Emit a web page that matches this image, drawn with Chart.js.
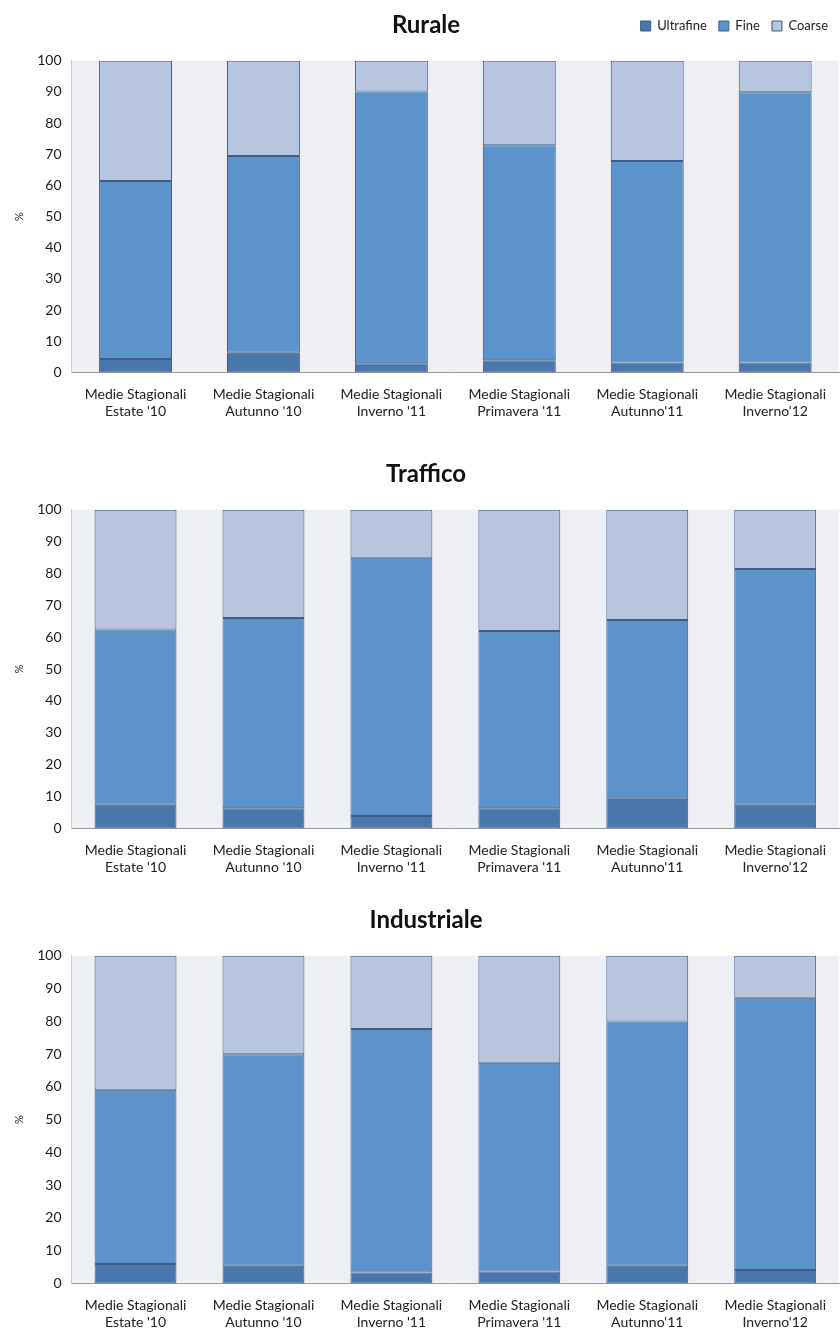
<!DOCTYPE html>
<html>
<head>
<meta charset="utf-8">
<script src="https://cdn.jsdelivr.net/npm/chart.js@4.4.0/dist/chart.umd.min.js"></script>
<style>
  html, body { margin: 0; background: #fff; overflow: hidden; }
  .box { position: absolute; left: 0; width: 840px; }
</style>
</head>
<body>
<div class="box" style="top:0;height:434px"><canvas id="chartRurale"></canvas></div>
<div class="box" style="top:447px;height:443px"><canvas id="chartTraffico"></canvas></div>
<div class="box" style="top:893px;height:452px"><canvas id="chartIndustriale"></canvas></div>
<script>
// categorie (due righe per etichetta)
const categories = [
  ['Medie Stagionali', "Estate '10"],
  ['Medie Stagionali', "Autunno '10"],
  ['Medie Stagionali', "Inverno '11"],
  ['Medie Stagionali', "Primavera '11"],
  ['Medie Stagionali', "Autunno'11"],
  ['Medie Stagionali', "Inverno'12"]
];
const seriesNames = ['Ultrafine', 'Fine', 'Coarse'];
const yTicks = [0, 10, 20, 30, 40, 50, 60, 70, 80, 90, 100];

// Rurale (%)
const ruraleUltrafine = [4.3, 6.3, 2.9, 3.9, 3.2, 3.2];
const ruraleFine      = [57.1, 63.1, 87.2, 69.0, 64.6, 86.7];
const ruraleCoarse    = [38.6, 30.6, 9.9, 27.1, 32.2, 10.1];

// Traffico (%)
const trafficoUltrafine = [7.4, 6.3, 3.9, 6.3, 9.8, 7.4];
const trafficoFine      = [55.0, 59.7, 81.0, 55.6, 55.6, 74.0];
const trafficoCoarse    = [37.6, 34.0, 15.1, 38.1, 34.6, 18.6];

// Industriale (%)
const industrialeUltrafine = [5.9, 5.4, 3.3, 3.6, 5.4, 4.1];
const industrialeFine      = [53.2, 64.5, 74.3, 63.7, 74.5, 83.1];
const industrialeCoarse    = [40.9, 30.1, 22.4, 32.7, 20.1, 12.8];

const colors = ['#4977AC', '#5B93CA', '#B7C5DF'];
const edge = '#3D5D86';

Chart.defaults.font.family = 'Lato, "Open Sans", sans-serif';
Chart.defaults.color = '#1a1a1a';

// sfondo dell'area del grafico
const plotBg = {
  id: 'plotBg',
  beforeDraw(chart) {
    const a = chart.chartArea;
    const c = chart.ctx;
    c.save();
    c.fillStyle = '#EDEFF4';
    c.fillRect(a.left, a.top, a.right - a.left, a.bottom - a.top);
    c.restore();
  }
};

function makeChart(id, title, ultra, fine, coarse, barPct, withLegend) {
  const values = [ultra, fine, coarse];
  const datasets = seriesNames.map((name, i) => ({
    label: name,
    data: values[i],
    backgroundColor: colors[i],
    borderColor: edge,
    borderWidth: 1,
    borderSkipped: false,
    barPercentage: barPct,
    categoryPercentage: 1
  }));

  return new Chart(document.getElementById(id), {
    type: 'bar',
    data: { labels: categories, datasets: datasets },
    plugins: [plotBg],
    options: {
      responsive: true,
      maintainAspectRatio: false,
      animation: false,
      layout: { padding: { left: 12, right: 0, top: withLegend ? 7.5 : 0, bottom: 0 } },
      plugins: {
        tooltip: { enabled: false },
        legend: {
          display: withLegend,
          position: 'top',
          align: 'end',
          weight: 3000,
          labels: {
            boxWidth: 10,
            boxHeight: 10,
            padding: 12,
            font: { size: 13 },
            color: '#222'
          }
        },
        title: {
          display: true,
          text: title,
          weight: 2000,
          font: { size: 24, weight: 'bold' },
          color: '#111',
          padding: withLegend ? { top: -31.9, bottom: 21.3 } : { top: 12.6, bottom: 21.3 }
        }
      },
      scales: {
        x: {
          stacked: true,
          grid: { display: false, drawTicks: false },
          border: { display: true, color: '#9A9A9A' },
          ticks: { padding: 14, font: { size: 14 }, color: '#222', maxRotation: 0, autoSkip: false }
        },
        y: {
          stacked: true,
          min: 0,
          max: 100,
          afterBuildTicks: (s) => { s.ticks = yTicks.map(v => ({ value: v })); },
          grid: { display: false, drawTicks: false },
          border: { display: true, color: '#C8CCD4' },
          ticks: { padding: 10, font: { size: 14 }, color: '#1a1a1a' },
          title: { display: true, text: '%', font: { size: 11 }, color: '#222', padding: 1 }
        }
      }
    }
  });
}

makeChart('chartRurale', 'Rurale', ruraleUltrafine, ruraleFine, ruraleCoarse, 0.57, true);
makeChart('chartTraffico', 'Traffico', trafficoUltrafine, trafficoFine, trafficoCoarse, 0.64, false);
makeChart('chartIndustriale', 'Industriale', industrialeUltrafine, industrialeFine, industrialeCoarse, 0.64, false);
</script>
</body>
</html>
